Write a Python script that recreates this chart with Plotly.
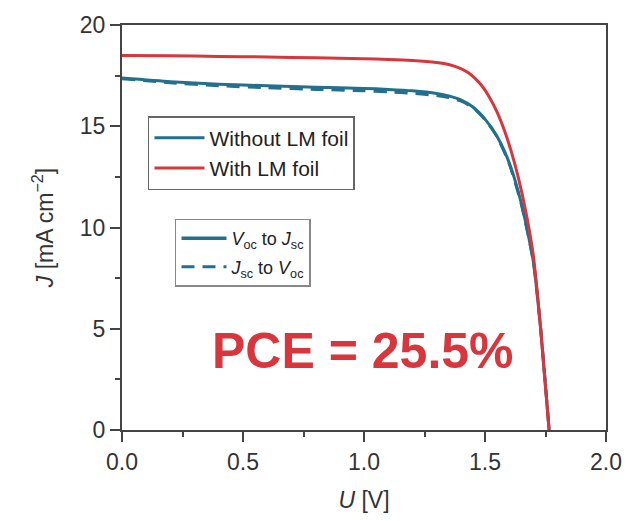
import plotly.graph_objects as go

# J-V curves of the tandem cell (U in V, J in mA cm^-2)
u_with = [0.0, 0.2, 0.4, 0.6, 0.8, 1.0, 1.1, 1.2, 1.3, 1.35, 1.4, 1.43, 1.46,
          1.49, 1.52, 1.55, 1.58, 1.61, 1.64, 1.67, 1.70, 1.73, 1.765]
j_with = [18.50, 18.48, 18.45, 18.42, 18.38, 18.33, 18.30, 18.25, 18.15, 18.05,
          17.85, 17.65, 17.35, 16.95, 16.40, 15.70, 14.80, 13.70, 12.35, 10.70,
          8.60, 5.00, 0.0]

u_without = [0.0, 0.2, 0.4, 0.6, 0.8, 1.0, 1.1, 1.2, 1.3, 1.35, 1.4, 1.45, 1.5,
             1.55, 1.6, 1.65, 1.7, 1.73, 1.765]
j_voc_to_jsc = [17.38, 17.20, 17.08, 17.00, 16.93, 16.87, 16.82, 16.75, 16.62,
                16.50, 16.30, 15.95, 15.35, 14.50, 13.20, 11.20, 8.30, 5.00, 0.0]
j_jsc_to_voc = [17.35, 17.15, 17.00, 16.90, 16.82, 16.75, 16.70, 16.63, 16.52,
                16.42, 16.25, 15.92, 15.33, 14.48, 13.15, 11.15, 8.30, 5.00, 0.0]

pce_label = "PCE = 25.5%"

TEAL = "#22708c"
RED = "#d8363c"
FONT = "Liberation Sans, Arial, sans-serif"

fig = go.Figure()

# scan-direction key entry (style reference only)
fig.add_trace(go.Scatter(
    x=[None], y=[None], mode="lines", name="<i>V</i><sub>oc</sub> to <i>J</i><sub>sc</sub>",
    line=dict(color=TEAL, width=3.5), legend="legend2", legendgroup="a",
))
fig.add_trace(go.Scatter(
    x=u_without, y=j_voc_to_jsc, mode="lines", name="Without LM foil",
    line=dict(color=TEAL, width=3, shape="spline", smoothing=0.6),
    legend="legend",
))
fig.add_trace(go.Scatter(
    x=u_without, y=j_jsc_to_voc, mode="lines", name="<i>J</i><sub>sc</sub> to <i>V</i><sub>oc</sub>",
    line=dict(color=TEAL, width=3, dash="13px,8px", shape="spline", smoothing=0.6),
    legend="legend2", legendgroup="b",
))
fig.add_trace(go.Scatter(
    x=u_with, y=j_with, mode="lines", name="With LM foil",
    line=dict(color=RED, width=3, shape="spline", smoothing=0.6),
    legend="legend",
))

fig.add_annotation(
    x=0.994, y=3.9, xref="x", yref="y", text=f"<b>{pce_label}</b>",
    showarrow=False, font=dict(family=FONT, size=50, color=RED),
)

axis_common = dict(
    showline=True, linewidth=2, linecolor="#444", mirror=True,
    ticks="outside", ticklen=10, tickwidth=1.5, tickcolor="#444",
    showgrid=False, zeroline=False,
    tickfont=dict(family=FONT, size=23, color="#333"),
)

fig.update_xaxes(
    range=[0, 2], dtick=0.5, tick0=0, tickformat=".1f",
    minor=dict(dtick=0.25, ticklen=5, ticks="outside", tickcolor="#444", tickwidth=1.5),
    title=dict(text="<i>U</i> [V]", font=dict(family=FONT, size=23, color="#333"), standoff=18),
    **axis_common,
)
fig.update_yaxes(
    range=[0, 20], dtick=5, tick0=0,
    minor=dict(dtick=2.5, ticklen=5, ticks="outside", tickcolor="#444", tickwidth=1.5),
    title=dict(text="<i>J</i> [mA cm<sup>−2</sup>]", font=dict(family=FONT, size=23, color="#333"), standoff=20),
    **axis_common,
)

fig.update_layout(
    width=641, height=521,
    margin=dict(l=122, r=35, t=23, b=91),
    plot_bgcolor="white", paper_bgcolor="white",
    legend=dict(
        x=0.0537, y=0.775, xanchor="left", yanchor="top",
        bordercolor="#666", borderwidth=1.5, bgcolor="white",
        font=dict(family=FONT, size=21, color="#222"),
        itemwidth=50, traceorder="normal",
    ),
    legend2=dict(
        x=0.1095, y=0.522, xanchor="left", yanchor="top",
        bordercolor="#888", borderwidth=1.5, bgcolor="white",
        font=dict(family=FONT, size=18, color="#222"),
        itemwidth=45, traceorder="grouped", tracegroupgap=2,
    ),
)

fig.write_html("out.html")
